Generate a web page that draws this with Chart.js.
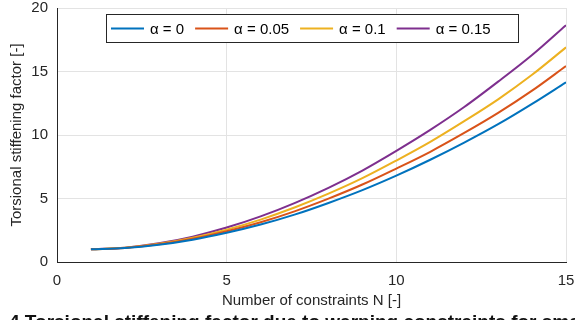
<!DOCTYPE html>
<html>
<head>
<meta charset="utf-8">
<script src="https://cdn.jsdelivr.net/npm/chart.js@4/dist/chart.umd.min.js"></script>
<style>
  html, body { margin: 0; padding: 0; background: #fff; }
  body { width: 575px; height: 320px; overflow: hidden; position: relative; }
  #wrap { position: absolute; left: 0; top: 0; width: 575px; height: 320px; }
  #caption {
    position: absolute; left: 9px; top: 311px; white-space: nowrap;
    font: bold 19px "Liberation Sans", Arial, sans-serif; color: #111;
  }
</style>
</head>
<body>
<div id="wrap"><canvas id="chart" width="575" height="320"></canvas></div>
<div id="caption">4 Torsional stiffening factor due to warping constraints for small</div>
<script>
// values (N = 1..15)
const constraintsN = [1, 2, 3, 4, 5, 6, 7, 8, 9, 10, 11, 12, 13, 14, 15];
const alpha0    = [1.00, 1.10, 1.36, 1.76, 2.30, 2.95, 3.73, 4.65, 5.66, 6.80, 8.05, 9.40, 10.85, 12.45, 14.15];
const alpha005  = [1.00, 1.11, 1.39, 1.83, 2.42, 3.13, 3.99, 4.99, 6.10, 7.36, 8.68, 10.16, 11.74, 13.49, 15.43];
const alpha01   = [1.00, 1.12, 1.43, 1.91, 2.55, 3.34, 4.29, 5.38, 6.60, 7.99, 9.46, 11.09, 12.81, 14.74, 16.90];
const alpha015  = [1.00, 1.13, 1.47, 2.00, 2.71, 3.59, 4.64, 5.84, 7.20, 8.75, 10.40, 12.20, 14.20, 16.30, 18.65];
const seriesLabels = ['α = 0', 'α = 0.05', 'α = 0.1', 'α = 0.15'];
const xTicks = [0, 5, 10, 15];
const yTicks = [0, 5, 10, 15, 20];

const colors = ['#0072BD', '#D95319', '#EDB120', '#7E2F8E'];
const FONT = '"Liberation Sans", Arial, sans-serif';
const INK = '#262626';

const pts = vals => constraintsN.map((n, i) => ({ x: n, y: vals[i] }));

// legend box drawn inside the plot, like the matlab one
const insideLegend = {
    id: 'insideLegend',
    afterDraw(chart) {
        const ctx = chart.ctx;
        const boxX = 106, boxY = 14, boxW = 412, boxH = 28;
        ctx.save();
        ctx.fillStyle = '#fff';
        ctx.fillRect(boxX, boxY, boxW, boxH);
        ctx.strokeStyle = INK;
        ctx.lineWidth = 1;
        ctx.strokeRect(boxX + 0.5, boxY + 0.5, boxW, boxH);
        ctx.font = '15px ' + FONT;
        ctx.textBaseline = 'middle';
        let x = boxX + 5;
        const midY = boxY + boxH / 2 + 0.5;
        chart.data.datasets.forEach(ds => {
            ctx.strokeStyle = ds.borderColor;
            ctx.lineWidth = 2;
            ctx.beginPath();
            ctx.moveTo(x, midY);
            ctx.lineTo(x + 33, midY);
            ctx.stroke();
            x += 39;
            ctx.fillStyle = '#000';
            ctx.fillText(ds.label, x, midY + 1);
            x += ctx.measureText(ds.label).width + 11;
        });
        ctx.restore();
    }
};

new Chart(document.getElementById('chart'), {
    type: 'line',
    data: {
        datasets: [alpha0, alpha005, alpha01, alpha015].map((vals, i) => ({
            label: seriesLabels[i],
            data: pts(vals),
            borderColor: colors[i],
            backgroundColor: colors[i],
            borderWidth: 2,
            pointRadius: 0,
            tension: 0.4,
            cubicInterpolationMode: 'monotone',
            fill: false
        }))
    },
    options: {
        responsive: false,
        animation: false,
        layout: { padding: { top: 8, right: 9, left: 0, bottom: 0 } },
        plugins: { legend: { display: false }, tooltip: { enabled: false } },
        scales: {
            x: {
                type: 'linear', min: 0, max: 15,
                afterBuildTicks: s => { s.ticks = xTicks.map(v => ({ value: v })); },
                afterFit: s => { s.height = 58; s.paddingLeft = 0; s.paddingRight = 0; },
                grid: { color: '#e3e3e3', drawTicks: false },
                border: { color: INK, width: 1 },
                ticks: { color: INK, font: { family: FONT, size: 15 }, padding: 10, maxRotation: 0 },
                title: {
                    display: true, text: 'Number of constraints N [-]', color: INK,
                    font: { family: FONT, size: 15 }, padding: { top: 0, bottom: 10 }
                }
            },
            y: {
                type: 'linear', min: 0, max: 20,
                afterBuildTicks: s => { s.ticks = yTicks.map(v => ({ value: v })); },
                afterFit: s => { s.width = 57; s.paddingTop = 0; s.paddingBottom = 0; },
                grid: { color: '#e3e3e3', drawTicks: false },
                border: { color: INK, width: 1 },
                ticks: { color: INK, font: { family: FONT, size: 15 }, padding: 9 },
                title: {
                    display: true, text: 'Torsional stiffening factor [-]', color: INK,
                    font: { family: FONT, size: 15 }, padding: { top: 8, bottom: 0 }
                }
            }
        }
    },
    plugins: [insideLegend]
});
</script>
</body>
</html>
